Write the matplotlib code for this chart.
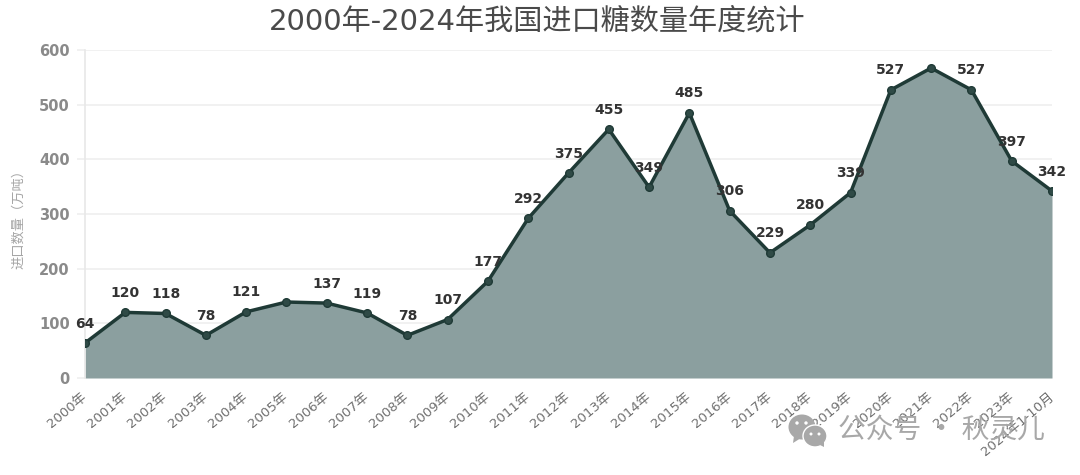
import numpy as np
import matplotlib
matplotlib.use('Agg')
import matplotlib.pyplot as plt
from matplotlib.patches import Ellipse, Circle, Polygon

plt.rcParams['font.family'] = ['DejaVu Sans', 'Noto Sans CJK SC']

years = ['2000年', '2001年', '2002年', '2003年', '2004年', '2005年', '2006年', '2007年', '2008年',
         '2009年', '2010年', '2011年', '2012年', '2013年', '2014年', '2015年', '2016年', '2017年',
         '2018年', '2019年', '2020年', '2021年', '2022年', '2023年', '2024年1-10月']
values = [64, 120, 118, 78, 121, 139, 137, 119, 78, 107, 177, 292, 375, 455, 349, 485, 306, 229,
          280, 339, 527, 567, 527, 397, 342]
# 2005 and 2021 have no label in the original
labeled = [True, True, True, True, True, False, True, True, True, True, True, True, True, True,
           True, True, True, True, True, True, True, False, True, True, True]
yticks = [0, 100, 200, 300, 400, 500, 600]

W, H = 1080, 475
fig = plt.figure(figsize=(W / 100, H / 100), dpi=100)
ax = fig.add_axes([85 / W, (H - 378) / H, (1052 - 85) / W, (378 - 50) / H])

x = np.arange(len(values))
ax.fill_between(x, values, 0, color='#8b9f9f', lw=0, zorder=2)
ax.plot(x, values, color='#1f3a36', lw=2.5, zorder=3)
ax.plot(x, values, 'o', color='#2f4a46', ms=5.5, mec='#1f3a36', zorder=4)

ax.set_xlim(0, 24)
ax.set_ylim(0, 600)
ax.set_yticks(yticks)
ax.set_xticks([])
ax.grid(axis='y', color='#efefef', lw=1.2, zorder=0)
for s in ['top', 'right', 'bottom']:
    ax.spines[s].set_visible(False)
ax.spines['left'].set_color('#e8e8e8')
ax.spines['left'].set_linewidth(1.2)
ax.tick_params(axis='y', length=6, color='#efefef', labelcolor='#8a8a8a', pad=5, width=1.2)
for t in ax.get_yticklabels():
    t.set_fontsize(10.5)
    t.set_fontweight('bold')

for i, v in enumerate(values):
    if labeled[i]:
        ax.annotate(str(v), (i, v), xytext=(0, 14), textcoords='offset points', ha='center',
                    va='center', fontsize=10, fontweight='bold', color='#333333', zorder=5,
                    annotation_clip=False)

# x labels, anchored at their right end under each point
for i, lab in enumerate(years):
    ax.annotate(lab, (i, 0), xytext=(-3, -9), textcoords='offset points', ha='right', va='top',
                rotation=40, rotation_mode='anchor', fontsize=9.5, color='#707070', zorder=5,
                annotation_clip=False)

fig.text(537 / W, 1 - 21 / H, '2000年-2024年我国进口糖数量年度统计', ha='center', va='center',
         fontsize=21, color='#4a4a4a')
fig.text(19 / W, 1 - 216 / H, '进口数量（万吨）', rotation=90, ha='center', va='center',
         fontsize=9.5, color='#a5a5a5')

# watermark
wm = fig.add_axes([0, 0, 1, 1])
wm.set_xlim(0, W)
wm.set_ylim(H, 0)
wm.axis('off')
wm.patch.set_alpha(0)
wm.add_patch(Ellipse((802, 427), 27, 25, color='#a8a8a8', lw=0))
wm.add_patch(Polygon([(794, 436), (793, 443), (801, 438)], color='#a8a8a8', lw=0))
wm.add_patch(Ellipse((815, 436), 24, 22, fc='#a8a8a8', ec='white', lw=1))
wm.add_patch(Polygon([(820, 445), (824, 447), (824, 441)], color='#a8a8a8', lw=0))
for ex, ey, r in [(797, 423, 1.7), (806, 423, 1.7), (811, 434, 1.5), (819, 434, 1.5)]:
    wm.add_patch(Circle((ex, ey), r, color='white', lw=0))
wm.text(941, 430, '公众号 · 秋灵儿', ha='center', va='center', fontsize=20, color='#a8a8a8',
        family=['Noto Sans CJK SC', 'DejaVu Sans'])

fig.savefig('out.png', dpi=100)
